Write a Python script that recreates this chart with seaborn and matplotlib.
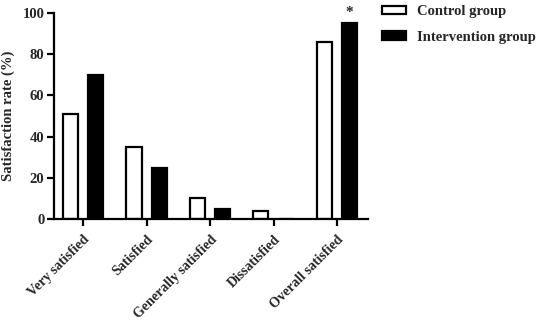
import matplotlib
matplotlib.use("Agg")
import matplotlib.pyplot as plt
import seaborn as sns
import pandas as pd
from matplotlib.patches import Patch

categories = ["Very satisfied", "Satisfied", "Generally satisfied", "Dissatisfied", "Overall satisfied"]
control = [51, 35, 10, 4, 86]
intervention = [70, 25, 5, 0, 95]
groups = ["Control group", "Intervention group"]
yticks = [0, 20, 40, 60, 80, 100]

df = pd.DataFrame({
    "category": categories * 2,
    "value": control + intervention,
    "group": [groups[0]] * len(categories) + [groups[1]] * len(categories),
})

sns.set_style("ticks")
plt.rcParams["font.family"] = ["Liberation Serif", "DejaVu Serif"]
plt.rcParams["font.weight"] = "bold"

fig = plt.figure(figsize=(5.36, 3.24), dpi=100)
ax = fig.add_axes([0.1007, 0.324, 0.586, 0.636])

sns.barplot(data=df, x="category", y="value", hue="group", order=categories,
            hue_order=groups, palette=["white", "black"], gap=0.4,
            edgecolor="black", linewidth=1.6, ax=ax, legend=False)

ax.set_xlim(-0.46, 4.49)
ax.set_ylim(0, 100)
ax.set_yticks(yticks)
ax.set_yticklabels([str(t) for t in yticks], fontsize=10.5, fontweight="bold")
ax.set_xticks(range(len(categories)))
ax.set_xticklabels(categories, rotation=45, ha="right", rotation_mode="anchor",
                   fontsize=10, fontweight="bold")
ax.set_xlabel("")
ax.set_ylabel("Satisfaction rate (%)", fontsize=10.5, fontweight="bold", labelpad=5)
sns.despine(ax=ax)
for s in ["left", "bottom"]:
    ax.spines[s].set_linewidth(1.6)
    ax.spines[s].set_color("black")
ax.tick_params(axis="both", width=1.6, length=5, color="black", pad=2)
ax.tick_params(axis="x", pad=5)

ax.text(4.2, 97, "*", ha="center", va="bottom", fontsize=11, fontweight="bold")

handles = [Patch(facecolor="white", edgecolor="black", linewidth=1.6),
           Patch(facecolor="black", edgecolor="black", linewidth=1.6)]
fig.legend(handles, groups, loc="upper left", bbox_to_anchor=(0.694, 1.015),
           frameon=False, handlelength=1.6, handleheight=0.5, labelspacing=0.85,
           borderaxespad=0.3,
           prop={"family": "Liberation Serif", "weight": "bold", "size": 10.5})

fig.savefig("out.png", dpi=100)
